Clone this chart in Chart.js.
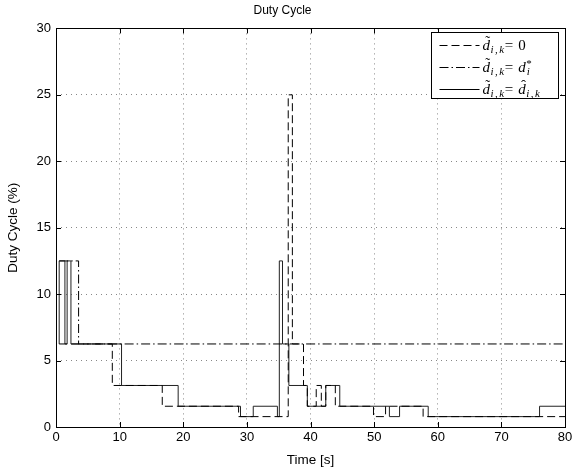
<!DOCTYPE html>
<html>
<head>
<meta charset="utf-8">
<script src="https://cdn.jsdelivr.net/npm/chart.js@4.4.0/dist/chart.umd.min.js"></script>
<style>
  html, body { margin: 0; padding: 0; background: #fff; }
</style>
</head>
<body>
<canvas id="dutyChart" width="586" height="470"></canvas>
<script>
  const titleText = "Duty Cycle";
  const xLabel = "Time [s]";
  const yLabel = "Duty Cycle (%)";
  const timeTicks = [0, 10, 20, 30, 40, 50, 60, 70, 80];
  const dutyTicks = [0, 5, 10, 15, 20, 25, 30];

  // d~ = 0 (dashed)
  const zeroTime = [0.5, 8.85, 16.7, 28.7, 36.5, 37.15, 38.9, 39.5, 40.9, 41.7, 42.4, 43.9, 49.9, 51.8, 57.7, 80];
  const zeroDuty = [6.25, 3.125, 1.5625, 0.78125, 25, 6.25, 3.125, 1.5625, 3.125, 1.5625, 3.125, 1.5625, 0.78125, 1.5625, 0.78125, 0.78125];

  // d~ = d* (dash-dot)
  const starTime = [0.5, 3.55, 80];
  const starDuty = [12.5, 6.25, 6.25];

  // d~ = d^ (solid)
  const hatTime = [0.5, 0.5, 1.4, 1.75, 2.35, 10.3, 19.2, 29.0, 31.0, 34.8, 35.1, 35.6, 36.6, 39.5, 42.4, 44.6, 52.4, 54.0, 58.5, 76.0, 80];
  const hatDuty = [6.25, 12.5, 6.25, 12.5, 6.25, 3.125, 1.5625, 0.78125, 1.5625, 0.78125, 12.5, 6.25, 3.125, 1.5625, 3.125, 1.5625, 0.78125, 1.5625, 0.78125, 1.5625, 1.5625];

  const zeroDash = [8, 4];
  const starDash = [9, 3, 1.5, 3];
  const hatDash = [];

  const toPoints = (t, d) => t.map((x, i) => ({ x: x, y: d[i] }));

  const sansFont = "'Liberation Sans', Arial, sans-serif";
  const serifFont = "'Liberation Serif', 'DejaVu Serif', serif";

  // box round the plot + inward tick marks (matlab look)
  const boxPlugin = {
    id: "box",
    afterDraw(chart) {
      const ctx = chart.ctx;
      const a = chart.chartArea;
      const xs = chart.scales.x;
      const ys = chart.scales.y;
      ctx.save();
      ctx.strokeStyle = "#000";
      ctx.lineWidth = 1;
      ctx.beginPath();
      xs.ticks.forEach((t) => {
        const px = Math.round(xs.getPixelForValue(t.value)) + 0.5;
        ctx.moveTo(px, a.bottom);
        ctx.lineTo(px, a.bottom - 5);
        ctx.moveTo(px, a.top);
        ctx.lineTo(px, a.top + 5);
      });
      ys.ticks.forEach((t) => {
        const py = Math.round(ys.getPixelForValue(t.value)) + 0.5;
        ctx.moveTo(a.left, py);
        ctx.lineTo(a.left + 5, py);
        ctx.moveTo(a.right, py);
        ctx.lineTo(a.right - 5, py);
      });
      ctx.stroke();
      ctx.strokeRect(Math.round(a.left) + 0.5, Math.round(a.top) + 0.5, Math.round(a.right - a.left), Math.round(a.bottom - a.top));
      ctx.restore();
    },
  };

  function drawRuns(ctx, x, y, runs) {
    runs.forEach((r) => {
      ctx.font = r.font;
      const w = ctx.measureText(r.text).width;
      ctx.fillText(r.text, x, y + (r.dy || 0));
      if (r.accent) {
        ctx.font = "15px " + serifFont;
        ctx.textAlign = "center";
        ctx.fillText(r.accent, x + w / 2 + 1.5, y - 4);
        ctx.textAlign = "left";
      }
      x += w + (r.gap || 0);
    });
  }

  const legendPlugin = {
    id: "mathLegend",
    afterDraw(chart) {
      const ctx = chart.ctx;
      const a = chart.chartArea;
      const w = 127, h = 66;
      const left = Math.round(a.right - 7 - w) + 0.5;
      const top = Math.round(a.top + 4) + 0.5;
      ctx.save();
      ctx.fillStyle = "#fff";
      ctx.fillRect(left, top, w, h);
      ctx.strokeStyle = "#000";
      ctx.lineWidth = 1;
      ctx.strokeRect(left, top, w, h);

      const it = "italic 15px " + serifFont;
      const rm = "15px " + serifFont;
      const sub = "italic 11px " + serifFont;
      const lhs = [
        { text: "d", font: it, accent: "\u02DC", gap: 0.5 },
        { text: "i", font: sub, dy: 3, gap: 1.5 },
        { text: ",", font: "11px " + serifFont, dy: 3, gap: 1.5 },
        { text: "k", font: sub, dy: 3, gap: 0.5 },
        { text: "=", font: rm, gap: 5 },
      ];
      const rhs = [
        [{ text: "0", font: rm }],
        [
          { text: "d", font: it, gap: 0.5 },
          { text: "*", font: "11px " + serifFont, dy: -5, gap: -5 },
          { text: "i", font: sub, dy: 3 },
        ],
        [
          { text: "d", font: it, accent: "\u02C6", gap: 0.5 },
          { text: "i", font: sub, dy: 3, gap: 1.5 },
          { text: ",", font: "11px " + serifFont, dy: 3, gap: 1.5 },
          { text: "k", font: sub, dy: 3 },
        ],
      ];
      const dashes = [zeroDash, starDash, hatDash];
      ctx.fillStyle = "#000";
      ctx.textBaseline = "alphabetic";
      ctx.textAlign = "left";
      for (let i = 0; i < 3; i++) {
        const ly = Math.round(top + 12 + i * 22) + 0.5;
        ctx.setLineDash(dashes[i]);
        ctx.beginPath();
        ctx.moveTo(left + 8, ly);
        ctx.lineTo(left + 48, ly);
        ctx.stroke();
        ctx.setLineDash([]);
        drawRuns(ctx, left + 51, ly + 4, lhs.concat(rhs[i]));
      }
      ctx.restore();
    },
  };

  new Chart(document.getElementById("dutyChart"), {
    type: "line",
    data: {
      datasets: [
        {
          label: "zero",
          data: toPoints(zeroTime, zeroDuty),
          borderColor: "#000",
          borderWidth: 1,
          borderDash: zeroDash,
          stepped: true,
          pointRadius: 0,
          fill: false,
        },
        {
          label: "star",
          data: toPoints(starTime, starDuty),
          borderColor: "#000",
          borderWidth: 1,
          borderDash: starDash,
          stepped: true,
          pointRadius: 0,
          fill: false,
        },
        {
          label: "hat",
          data: toPoints(hatTime, hatDuty),
          borderColor: "#222",
          borderWidth: 1,
          stepped: true,
          pointRadius: 0,
          fill: false,
        },
      ],
    },
    options: {
      responsive: false,
      animation: false,
      devicePixelRatio: 1,
      layout: {
        padding: { left: 0, right: 21, top: 0, bottom: 0 },
      },
      plugins: {
        legend: { display: false },
        tooltip: { enabled: false },
        title: {
          display: true,
          text: titleText,
          color: "#000",
          font: { family: sansFont, size: 12, weight: "normal" },
          padding: { top: 3, bottom: 11 },
        },
      },
      scales: {
        x: {
          type: "linear",
          min: timeTicks[0],
          max: timeTicks[timeTicks.length - 1],
          afterFit(scale) {
            scale.height = 43;
          },
          ticks: {
            stepSize: 10,
            color: "#000",
            padding: 3,
            font: { family: sansFont, size: 13 },
          },
          grid: { color: "#888", lineWidth: 1, drawTicks: false },
          border: { display: false, dash: [1, 4] },
          title: {
            display: true,
            text: xLabel,
            color: "#000",
            font: { family: sansFont, size: 13.5 },
            padding: { top: 0, bottom: 2 },
          },
        },
        y: {
          min: dutyTicks[0],
          max: dutyTicks[dutyTicks.length - 1],
          afterFit(scale) {
            scale.width = 56;
          },
          ticks: {
            stepSize: 5,
            color: "#000",
            padding: 5,
            font: { family: sansFont, size: 13 },
          },
          grid: { color: "#888", lineWidth: 1, drawTicks: false },
          border: { display: false, dash: [1, 4] },
          title: {
            display: true,
            text: yLabel,
            color: "#000",
            font: { family: sansFont, size: 13.5 },
            padding: { top: 5, bottom: 0 },
          },
        },
      },
    },
    plugins: [boxPlugin, legendPlugin],
  });
</script>
</body>
</html>
